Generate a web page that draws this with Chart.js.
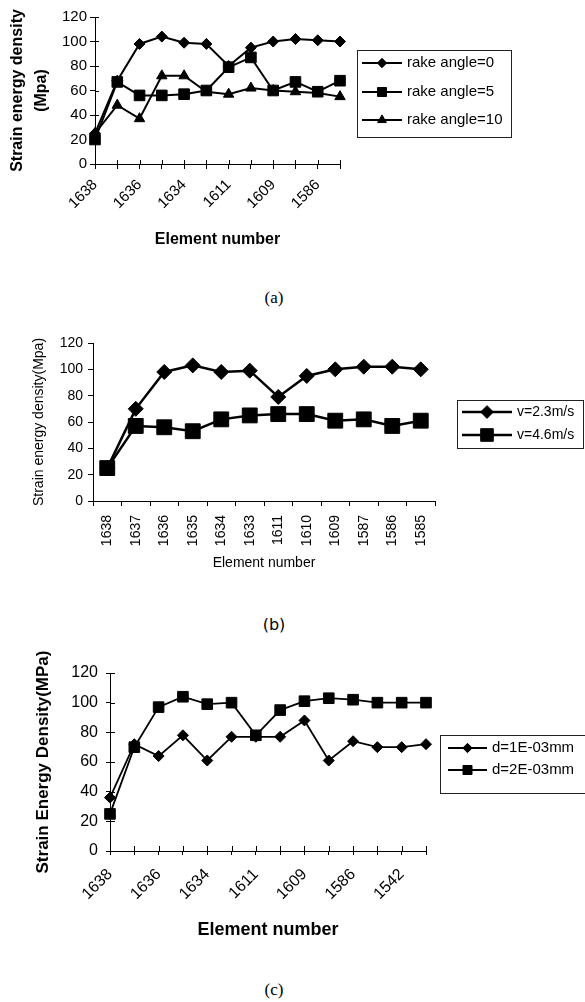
<!DOCTYPE html>
<html><head><meta charset="utf-8">
<script src="https://cdn.jsdelivr.net/npm/chart.js@4.4.1/dist/chart.umd.min.js"></script>
<style>
html,body{margin:0;padding:0;background:#fff;width:585px;height:1002px;overflow:hidden;}
.wrap{position:absolute;left:0;width:585px;}
canvas{display:block;}
.cap{position:absolute;left:0;width:548px;height:22px;line-height:22px;text-align:center;font-family:"Liberation Serif","Times New Roman",serif;font-size:17px;color:#000;}
</style></head><body>
<div class="wrap" style="top:0;height:270px"><canvas id="ca" width="585" height="270"></canvas></div>
<div class="cap" style="top:287px">(a)</div>
<div class="wrap" style="top:315px;height:270px"><canvas id="cb" width="585" height="270"></canvas></div>
<div class="cap" style="top:614px;font-family:'DejaVu Sans',sans-serif;font-size:16px">(b)</div>
<div class="wrap" style="top:645px;height:300px"><canvas id="cc" width="585" height="300"></canvas></div>
<div class="cap" style="top:979px">(c)</div>
<script>
// ---------- data ----------
const elementsAB = ['1638','1637','1636','1635','1634','1633','1611','1610','1609','1587','1586','1585'];
const elementsC  = ['1638','1637','1636','1635','1634','1633','1611','1610','1609','1587','1586','1585','1542','1541'];

const rakeAngle0  = [25, 68, 98, 104, 99, 98, 80, 95, 100, 102, 101, 100];
const rakeAngle5  = [20, 67, 56, 56, 57, 60, 79, 87, 60, 67, 59, 68];
const rakeAngle10 = [25, 48, 37, 72, 72, 59, 57, 62, 60, 59, 58, 55];

const v23 = [25, 70, 98, 103, 98, 99, 79, 95, 100, 102, 102, 100];
const v46 = [25, 57, 56, 53, 62, 65, 66, 66, 61, 62, 57, 61];

const d1E03 = [36, 72, 64, 78, 61, 77, 77, 77, 88, 61, 74, 70, 70, 72];
const d2E03 = [25, 70, 97, 104, 99, 100, 78, 95, 101, 103, 102, 100, 100, 100];

const yTicks = [0, 20, 40, 60, 80, 100, 120];

// ---------- helpers ----------
const F = '"Liberation Sans", Arial, sans-serif';

function drawMarker(ctx, style, r, x, y, color){
  ctx.save();
  ctx.fillStyle = color; ctx.strokeStyle = color; ctx.lineWidth = 1;
  ctx.beginPath();
  if (style === 'rectRot'){
    ctx.moveTo(x, y - r); ctx.lineTo(x + r, y); ctx.lineTo(x, y + r); ctx.lineTo(x - r, y);
  } else if (style === 'rect'){
    const h = r * Math.SQRT1_2; ctx.rect(x - h, y - h, 2*h, 2*h);
  } else if (style === 'triangle'){
    let a = 0;
    ctx.moveTo(x + Math.sin(a)*r, y - Math.cos(a)*r); a += 2*Math.PI/3;
    ctx.lineTo(x + Math.sin(a)*r, y - Math.cos(a)*r); a += 2*Math.PI/3;
    ctx.lineTo(x + Math.sin(a)*r, y - Math.cos(a)*r);
  }
  ctx.closePath(); ctx.fill(); ctx.stroke();
  ctx.restore();
}

const innerTicks = {
  id: 'innerTicks',
  beforeDatasetsDraw(chart, args, o){
    if (!o || !o.len) return;
    const ctx = chart.ctx, {left, bottom} = chart.chartArea;
    const xs = chart.scales.x, ys = chart.scales.y;
    ctx.save(); ctx.strokeStyle = '#000'; ctx.lineWidth = 1; ctx.beginPath();
    for (let i = 0; i < xs.ticks.length; i++){
      const px = Math.round(xs.getPixelForTick(i)) + 0.5;
      ctx.moveTo(px, bottom); ctx.lineTo(px, bottom - o.len);
    }
    for (let i = 0; i < ys.ticks.length; i++){
      const py = Math.round(ys.getPixelForTick(i)) + 0.5;
      ctx.moveTo(left, py); ctx.lineTo(left + o.len, py);
    }
    ctx.stroke(); ctx.restore();
  }
};

const boxLegend = {
  id: 'boxLegend',
  afterDraw(chart, args, o){
    if (!o || !o.rows) return;
    const ctx = chart.ctx;
    ctx.save();
    ctx.strokeStyle = '#222'; ctx.lineWidth = 1;
    ctx.strokeRect(o.x + 0.5, o.y + 0.5, o.w, o.h);
    chart.data.datasets.forEach((ds, i) => {
      const y = o.rows[i];
      ctx.beginPath(); ctx.moveTo(o.lx0, y); ctx.lineTo(o.lx1, y);
      ctx.lineWidth = ds.borderWidth; ctx.strokeStyle = ds.borderColor; ctx.stroke();
      drawMarker(ctx, ds.pointStyle, ds.pointRadius * o.ms, (o.lx0 + o.lx1)/2, y, ds.pointBackgroundColor);
      ctx.fillStyle = '#000'; ctx.font = o.font; ctx.textBaseline = 'middle'; ctx.textAlign = 'left';
      ctx.fillText(ds.label, o.tx, y);
    });
    ctx.restore();
  }
};

function series(label, data, style, r, bw){
  return {label, data, pointStyle: style, pointRadius: r, pointHoverRadius: r,
    borderColor: '#000', backgroundColor: '#000', pointBackgroundColor: '#000', pointBorderColor: '#000',
    pointBorderWidth: 1, borderWidth: bw, tension: 0, fill: false, clip: false};
}

function makeChart(id, cfg){
  const yTickLabel = v => yTicks.includes(v) ? String(v) : '';
  return new Chart(document.getElementById(id), {
    type: 'line',
    data: {labels: cfg.labels, datasets: cfg.datasets},
    options: {
      responsive: false, animation: false, devicePixelRatio: 1,
      layout: {padding: cfg.padding},
      plugins: {legend: {display: false}, tooltip: {enabled: false}, title: {display: false},
        innerTicks: {len: cfg.innerLen}, boxLegend: cfg.legend},
      scales: {
        x: {
          type: 'category', offset: cfg.xOffset,
          grid: {display: true, offset: cfg.xOffset, drawOnChartArea: false, drawTicks: true, tickLength: cfg.tickLen, color: '#000', lineWidth: 1},
          border: {display: true, color: '#000', width: 1},
          ticks: {autoSkip: false, maxRotation: cfg.rot, minRotation: cfg.rot, padding: cfg.xPad, color: '#000',
            font: {family: F, size: cfg.tickSize},
            callback: function(v, i){ return (i % cfg.every === 0) ? this.getLabelForValue(v) : ''; }},
          title: {display: true, text: cfg.xTitle, color: '#000', font: cfg.xTitleFont, padding: {top: 0, bottom: cfg.xTitlePad}},
          afterFit(s){ s.height = cfg.xH; }
        },
        y: {
          min: 0, max: 120,
          grid: {display: true, drawOnChartArea: false, drawTicks: true, tickLength: cfg.tickLen, color: '#000', lineWidth: 1},
          border: {display: true, color: '#000', width: 1},
          ticks: {stepSize: 20, padding: cfg.yPad, color: '#000', font: {family: F, size: cfg.tickSize}, callback: yTickLabel},
          title: {display: true, text: cfg.yTitle, color: '#000', font: cfg.yTitleFont, padding: {top: cfg.yTitlePad, bottom: 0}},
          afterFit(s){ s.width = cfg.yW; }
        }
      }
    },
    plugins: [innerTicks, boxLegend]
  });
}

// (a)
makeChart('ca', {
  labels: elementsAB,
  datasets: [
    series('rake angle=0', rakeAngle0, 'rectRot', 5.5, 2),
    series('rake angle=5', rakeAngle5, 'rect', 7.5, 2),
    series('rake angle=10', rakeAngle10, 'triangle', 6, 2)
  ],
  padding: {left: 0, top: 17, right: 245, bottom: 0},
  xOffset: false, innerLen: 4, tickLen: 5, rot: 45, xPad: 7, every: 2, tickSize: 15,
  xTitle: 'Element number', xTitleFont: {family: F, size: 16, weight: 'bold', lineHeight: 1.2}, xTitlePad: 20.4, xH: 106,
  yTitle: ['Strain energy density', '(Mpa)'], yTitleFont: {family: F, size: 16, weight: 'bold', lineHeight: 1.5}, yTitlePad: 6, yW: 95, yPad: 3,
  legend: {x: 357, y: 50, w: 154, h: 87, rows: [63, 92, 120], lx0: 362, lx1: 402, tx: 407, ms: 0.85, font: '15px ' + F}
});

// (b)
makeChart('cb', {
  labels: elementsAB,
  datasets: [
    series('v=2.3m/s', v23, 'rectRot', 7.5, 2.5),
    series('v=4.6m/s', v46, 'rect', 10.5, 2.5)
  ],
  padding: {left: 0, top: 28, right: 150, bottom: 0},
  xOffset: true, innerLen: 0, tickLen: 5, rot: 90, xPad: 9, every: 1, tickSize: 14,
  xTitle: 'Element number', xTitleFont: {family: F, size: 14, lineHeight: 1.2}, xTitlePad: 13.6, xH: 84,
  yTitle: 'Strain energy density(Mpa)', yTitleFont: {family: F, size: 14, lineHeight: 1.2}, yTitlePad: 30.6, yW: 93, yPad: 5,
  legend: {x: 457, y: 85, w: 126, h: 48, rows: [97, 120], lx0: 462, lx1: 512, tx: 517, ms: 0.85, font: '14px ' + F}
});

// (c)
makeChart('cc', {
  labels: elementsC,
  datasets: [
    series('d=1E-03mm', d1E03, 'rectRot', 5.5, 1.8),
    series('d=2E-03mm', d2E03, 'rect', 7.5, 1.8)
  ],
  padding: {left: 0, top: 28, right: 159, bottom: 0},
  xOffset: false, innerLen: 5, tickLen: 4, rot: 45, xPad: 10, every: 2, tickSize: 16,
  xTitle: 'Element number', xTitleFont: {family: F, size: 18, weight: 'bold', lineHeight: 1.2}, xTitlePad: 4.2, xH: 94,
  yTitle: 'Strain Energy Density(MPa)', yTitleFont: {family: F, size: 17, weight: 'bold', lineHeight: 1.2}, yTitlePad: 32.8, yW: 110, yPad: 8,
  legend: {x: 440, y: 90, w: 160, h: 58, rows: [103, 125], lx0: 448, lx1: 487, tx: 492, ms: 0.85, font: '15px ' + F}
});
</script>
</body></html>
